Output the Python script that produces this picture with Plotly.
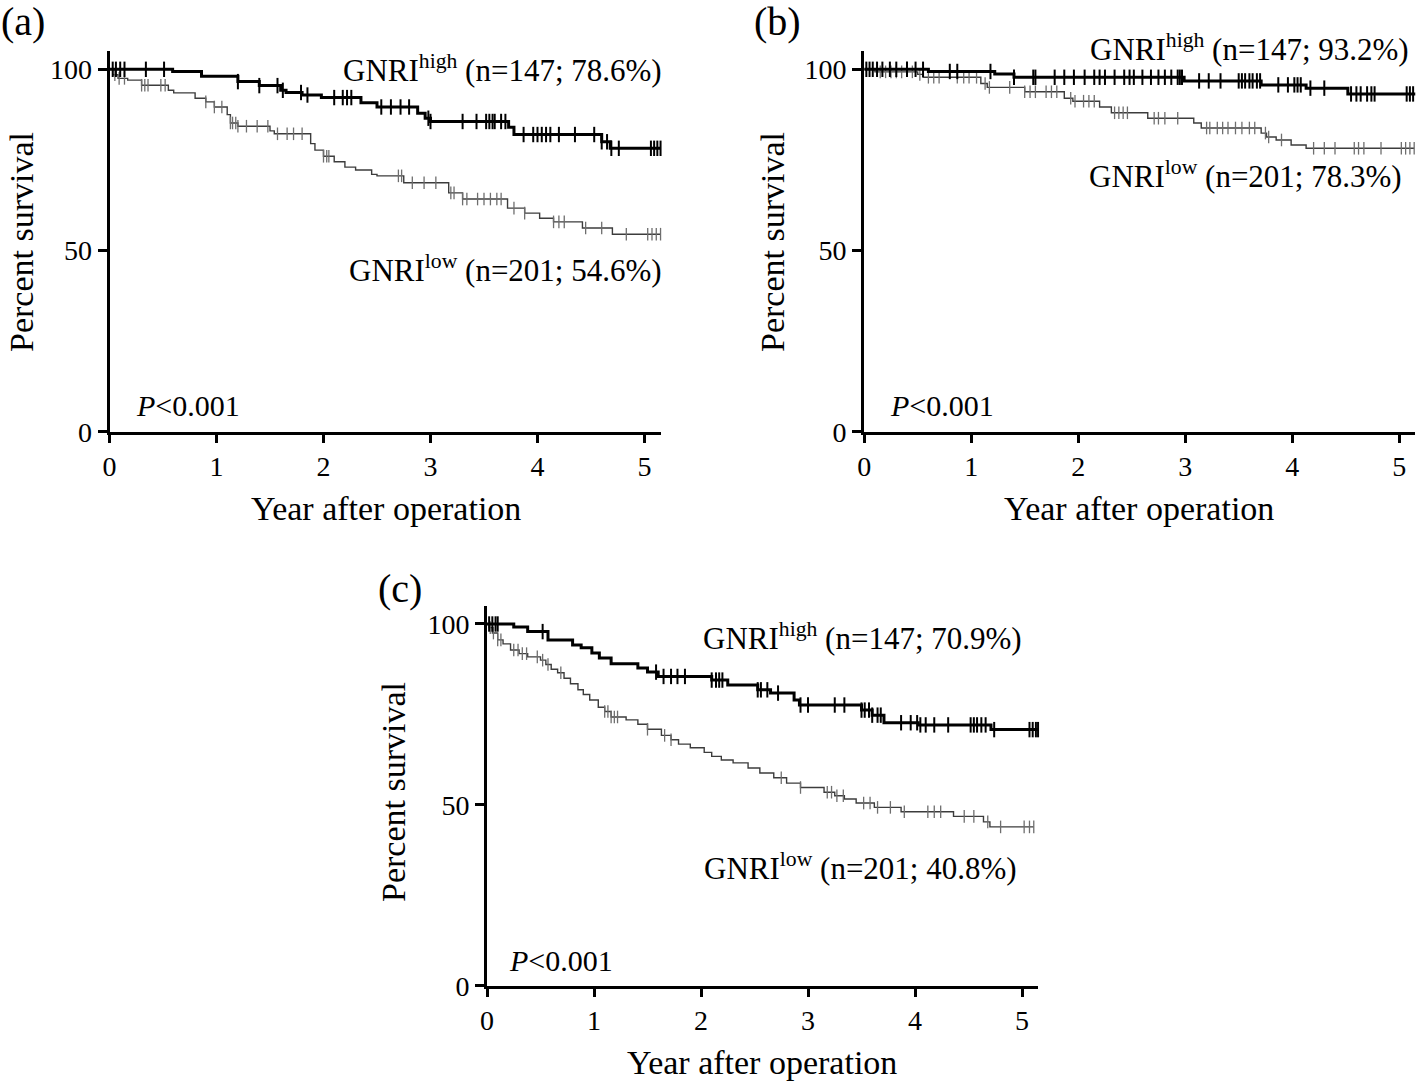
import numpy as np
import plotly.graph_objects as go

W, H = 1424, 1084
FONT = "Liberation Serif, Times New Roman, serif"

# ---------------- data ----------------
# panel (a)
t_a_hi = [0, 0.59, 0.86, 1.2, 1.4, 1.6, 1.65, 1.8, 1.98, 2.35, 2.5, 2.88, 2.95, 3.0, 3.73, 3.78, 4.6, 4.68]
s_a_hi = [100, 99.4, 98.1, 96.6, 95.5, 94.2, 93.6, 92.9, 92.2, 90.8, 89.6, 87.9, 86.5, 85.6, 84.0, 82.0, 80.0, 78.2]
c_a_hi = [0.03, 0.06, 0.1, 0.14, 0.34, 0.51, 1.2, 1.4, 1.57, 1.62, 1.79, 1.85, 2.1, 2.18, 2.22, 2.26, 2.54, 2.63,
          2.72, 2.8, 2.98, 3.0, 3.3, 3.43, 3.52, 3.55, 3.58, 3.6, 3.66, 3.7, 3.87, 3.96, 4.0, 4.04, 4.08, 4.12,
          4.2, 4.35, 4.53, 4.6, 4.65, 4.69, 4.76, 5.06, 5.09, 5.12, 5.15]
t_a_lo = [0, 0.03, 0.08, 0.17, 0.3, 0.55, 0.6, 0.8, 0.9, 0.98, 1.1, 1.13, 1.2, 1.5, 1.54, 1.88, 1.92, 2.0, 2.1,
          2.2, 2.3, 2.45, 2.5, 2.75, 3.17, 3.3, 3.72, 3.88, 4.02, 4.15, 4.42, 4.7]
s_a_lo = [100, 98.5, 97.5, 97.0, 95.6, 94.2, 93.5, 92.0, 91.0, 89.6, 87.5, 85.2, 84.3, 83.0, 82.2, 79.5, 77.7,
          76.0, 74.5, 73.0, 72.2, 71.0, 70.6, 68.7, 65.9, 64.2, 61.7, 60.3, 58.9, 57.9, 56.2, 54.5]
c_a_lo = [0.05, 0.09, 0.14, 0.3, 0.33, 0.36, 0.48, 0.52, 0.9, 0.98, 1.05, 1.13, 1.15, 1.18, 1.2, 1.28, 1.38,
          1.48, 1.57, 1.66, 1.72, 1.8, 2.0, 2.03, 2.05, 2.7, 2.73, 2.83, 2.94, 3.05, 3.19, 3.22, 3.3, 3.34,
          3.44, 3.5, 3.56, 3.62, 3.66, 3.78, 3.88, 4.15, 4.2, 4.25, 4.45, 4.6, 4.83, 5.03, 5.07, 5.11, 5.15]

# panel (b)
t_b_hi = [0, 0.6, 1.22, 1.4, 2.99, 3.71, 4.13, 4.52]
s_b_hi = [100, 99.4, 98.7, 97.8, 96.8, 95.7, 94.8, 93.2]
c_b_hi = [0.02, 0.05, 0.08, 0.12, 0.17, 0.24, 0.3, 0.4, 0.48, 0.55, 0.8, 0.87, 1.18, 1.4, 1.58, 1.6, 1.78,
          1.87, 1.96, 2.06, 2.15, 2.2, 2.25, 2.34, 2.43, 2.48, 2.52, 2.6, 2.68, 2.75, 2.81, 2.87, 2.93, 2.95,
          2.97, 3.13, 3.22, 3.33, 3.5, 3.53, 3.56, 3.6, 3.63, 3.67, 3.7, 3.87, 3.96, 4.02, 4.05, 4.08, 4.17,
          4.3, 4.55, 4.6, 4.64, 4.7, 4.74, 4.77, 5.07, 5.1, 5.13, 5.16]
t_b_lo = [0, 0.1, 0.5, 0.55, 1.09, 1.15, 1.5, 1.87, 1.95, 2.2, 2.31, 2.65, 3.08, 3.15, 3.71, 3.76, 3.85, 3.99, 4.13]
s_b_lo = [100, 99.3, 98.6, 97.8, 96.1, 95.0, 93.8, 92.0, 91.2, 89.6, 88.0, 86.5, 85.2, 83.8, 82.4, 81.3, 80.5,
          79.1, 78.2]
c_b_lo = [0.15, 0.2, 0.25, 0.3, 0.35, 0.45, 0.52, 0.6, 0.65, 0.7, 0.87, 0.93, 0.98, 1.05, 1.13, 1.17, 1.36,
          1.5, 1.55, 1.6, 1.7, 1.75, 1.8, 1.93, 1.97, 2.05, 2.1, 2.15, 2.34, 2.38, 2.42, 2.46, 2.71, 2.75,
          2.81, 2.93, 3.2, 3.23, 3.3, 3.35, 3.4, 3.47, 3.53, 3.6, 3.65, 3.75, 3.78, 3.9, 4.2, 4.3, 4.4, 4.58,
          4.62, 4.67, 4.83, 5.02, 5.06, 5.1, 5.14]

# panel (c)
t_c_hi = [0, 0.25, 0.38, 0.57, 0.8, 0.88, 0.98, 1.05, 1.16, 1.41, 1.5, 1.6, 2.1, 2.25, 2.53, 2.65, 2.87, 2.92,
          3.5, 3.6, 3.71, 4.03, 4.71]
s_c_hi = [100, 99.2, 97.9, 95.6, 94.2, 93.4, 92.0, 90.6, 89.0, 87.8, 86.7, 85.5, 84.5, 83.1, 81.8, 80.9, 79.0,
          77.6, 76.2, 74.8, 72.7, 72.1, 70.8]
c_c_hi = [0.02, 0.05, 0.08, 0.1, 0.52, 1.58, 1.65, 1.72, 1.78, 1.85, 2.1, 2.14, 2.17, 2.2, 2.53, 2.56, 2.62,
          2.72, 2.93, 3.0, 3.25, 3.34, 3.5, 3.53, 3.57, 3.6, 3.65, 3.68, 3.87, 3.96, 4.02, 4.05, 4.1, 4.18,
          4.31, 4.52, 4.55, 4.58, 4.62, 4.66, 4.74, 5.07, 5.1, 5.13, 5.15]
t_c_lo = [0, 0.02, 0.05, 0.1, 0.15, 0.22, 0.3, 0.38, 0.5, 0.55, 0.6, 0.66, 0.72, 0.78, 0.85, 0.9, 0.96, 1.04,
          1.1, 1.16, 1.3, 1.41, 1.5, 1.63, 1.72, 1.79, 1.9, 2.03, 2.1, 2.19, 2.3, 2.44, 2.55, 2.68, 2.8, 2.93,
          3.15, 3.25, 3.34, 3.45, 3.62, 3.87, 4.36, 4.64, 4.7]
s_c_lo = [100, 99.0, 97.5, 95.6, 94.5, 92.8, 91.8, 90.9, 90.0, 88.8, 87.5, 86.5, 85.0, 83.5, 81.8, 80.5, 79.0,
          77.0, 75.8, 74.3, 73.5, 72.3, 70.9, 69.2, 68.0, 66.8, 65.8, 64.5, 63.4, 62.4, 61.6, 60.2, 58.8, 57.5,
          56.0, 54.8, 53.5, 52.5, 51.6, 50.5, 49.3, 48.1, 46.8, 45.3, 43.9]
c_c_lo = [0.03, 0.06, 0.1, 0.13, 0.25, 0.29, 0.33, 0.37, 0.47, 0.52, 0.57, 0.69, 1.1, 1.13, 1.16, 1.19, 1.22,
          1.5, 1.66, 1.72, 2.75, 2.93, 3.18, 3.22, 3.27, 3.33, 3.52, 3.58, 3.65, 3.77, 3.9, 4.12, 4.18, 4.24,
          4.46, 4.55, 4.68, 4.8, 5.02, 5.07, 5.11]

x_ticks = [0, 1, 2, 3, 4, 5]
y_ticks = [0, 50, 100]
x_title = "Year after operation"
y_title = "Percent survival"
p_text = "<i>P</i>&lt;0.001"
labels_hi = ["GNRI<sup>high</sup> (n=147; 78.6%)", "GNRI<sup>high</sup> (n=147; 93.2%)",
             "GNRI<sup>high</sup> (n=147; 70.9%)"]
labels_lo = ["GNRI<sup>low</sup> (n=201; 54.6%)", "GNRI<sup>low</sup> (n=201; 78.3%)",
             "GNRI<sup>low</sup> (n=201; 40.8%)"]
panel_tags = ["(a)", "(b)", "(c)"]

# ---------------- layout geometry (pixels) ----------------
XR = [0, 5.15]
YR = [0, 105]
# x pixel of year 0, px per year, y pixel of 0 %, px per %
geo = [
    dict(x0=109.5, kx=107.0, y0=431.7, ky=3.624),
    dict(x0=864.2, kx=107.0, y0=431.7, ky=3.624),
    dict(x0=487.0, kx=107.0, y0=985.7, ky=3.617),
]

def px(x):
    return x / W

def py(y):
    return 1 - y / H

fig = go.Figure()

series = [
    (t_a_hi, s_a_hi, c_a_hi, t_a_lo, s_a_lo, c_a_lo),
    (t_b_hi, s_b_hi, c_b_hi, t_b_lo, s_b_lo, c_b_lo),
    (t_c_hi, s_c_hi, c_c_hi, t_c_lo, s_c_lo, c_c_lo),
]

def step_vals(t, s, xs):
    t = np.asarray(t, float)
    s = np.asarray(s, float)
    idx = np.searchsorted(t, np.asarray(xs, float), side="right") - 1
    idx = np.clip(idx, 0, len(s) - 1)
    return s[idx]

for i, (th, sh, ch, tl, sl, cl) in enumerate(series):
    sfx = "" if i == 0 else str(i + 1)
    xa, ya = "x" + sfx, "y" + sfx
    # low group (thin grey)
    endl = max(max(cl), tl[-1])
    fig.add_trace(go.Scatter(x=list(tl) + [endl], y=list(sl) + [sl[-1]], mode="lines",
                             line=dict(shape="hv", color="#3c3c3c", width=1.4),
                             xaxis=xa, yaxis=ya, showlegend=False, hoverinfo="skip"))
    fig.add_trace(go.Scatter(x=cl, y=step_vals(tl, sl, cl), mode="markers",
                             marker=dict(symbol="line-ns", size=9, line=dict(width=1.3, color="#6e6e6e")),
                             xaxis=xa, yaxis=ya, showlegend=False, cliponaxis=False, hoverinfo="skip"))
    # high group (thick black)
    endh = max(max(ch), th[-1])
    fig.add_trace(go.Scatter(x=list(th) + [endh], y=list(sh) + [sh[-1]], mode="lines",
                             line=dict(shape="hv", color="black", width=3),
                             xaxis=xa, yaxis=ya, showlegend=False, hoverinfo="skip"))
    fig.add_trace(go.Scatter(x=ch, y=step_vals(th, sh, ch), mode="markers",
                             marker=dict(symbol="line-ns", size=11, line=dict(width=2, color="black")),
                             xaxis=xa, yaxis=ya, showlegend=False, cliponaxis=False, hoverinfo="skip"))

axis_common = dict(showline=True, linewidth=3, linecolor="black", ticks="outside",
                   tickwidth=3, tickcolor="black", showgrid=False, zeroline=False,
                   tickfont=dict(family=FONT, size=28, color="black"), fixedrange=True)

layout = dict(width=W, height=H, margin=dict(l=0, r=0, t=0, b=0, autoexpand=False),
              paper_bgcolor="white", plot_bgcolor="white", showlegend=False,
              font=dict(family=FONT, color="black"))

for i, g in enumerate(geo):
    sfx = "" if i == 0 else str(i + 1)
    xl = g["x0"]
    xr = g["x0"] + g["kx"] * (XR[1] - XR[0])
    yb = g["y0"]
    yt = g["y0"] - g["ky"] * (YR[1] - YR[0])
    layout["xaxis" + sfx] = dict(axis_common, domain=[px(xl), px(xr)], range=XR, tickvals=x_ticks,
                                 ticklen=8, anchor="y" + sfx)
    layout["yaxis" + sfx] = dict(axis_common, domain=[py(yb), py(yt)], range=YR, tickvals=y_ticks,
                                 ticklen=9, anchor="x" + sfx)

fig.update_layout(**layout)

ann = []
def add(text, x, y, xa, size, angle=0, ya="middle"):
    ann.append(dict(text=text, x=px(x), y=py(y), xref="paper", yref="paper", xanchor=xa, yanchor=ya,
                    showarrow=False, textangle=angle, font=dict(family=FONT, size=size, color="black")))

# label positions (pixels)
hi_pos = [(664, 68), (1411, 48), (1024, 636)]
lo_pos = [(664, 268), (1404, 175), (1019, 866)]
p_pos = [(134, 405), (888, 405), (507, 960)]
tag_pos = [(-1, 22), (752, 22), (376, 588)]
ytitle_pos = [(22, 242), (773, 242), (393, 792)]
xtitle_pos = [(386, 508), (1139, 508), (762, 1062)]

for i in range(3):
    add(labels_hi[i], hi_pos[i][0], hi_pos[i][1], "right", 31)
    add(labels_lo[i], lo_pos[i][0], lo_pos[i][1], "right", 31)
    add(p_text, p_pos[i][0], p_pos[i][1], "left", 30)
    add(panel_tags[i], tag_pos[i][0], tag_pos[i][1], "left", 40)
    add(y_title, ytitle_pos[i][0], ytitle_pos[i][1], "center", 34, angle=-90)
    add(x_title, xtitle_pos[i][0], xtitle_pos[i][1], "center", 34)

fig.update_layout(annotations=ann)
fig.write_html("out.html", config={"displayModeBar": False},
               post_script="document.body.style.margin='0';document.body.style.overflow='hidden';")
